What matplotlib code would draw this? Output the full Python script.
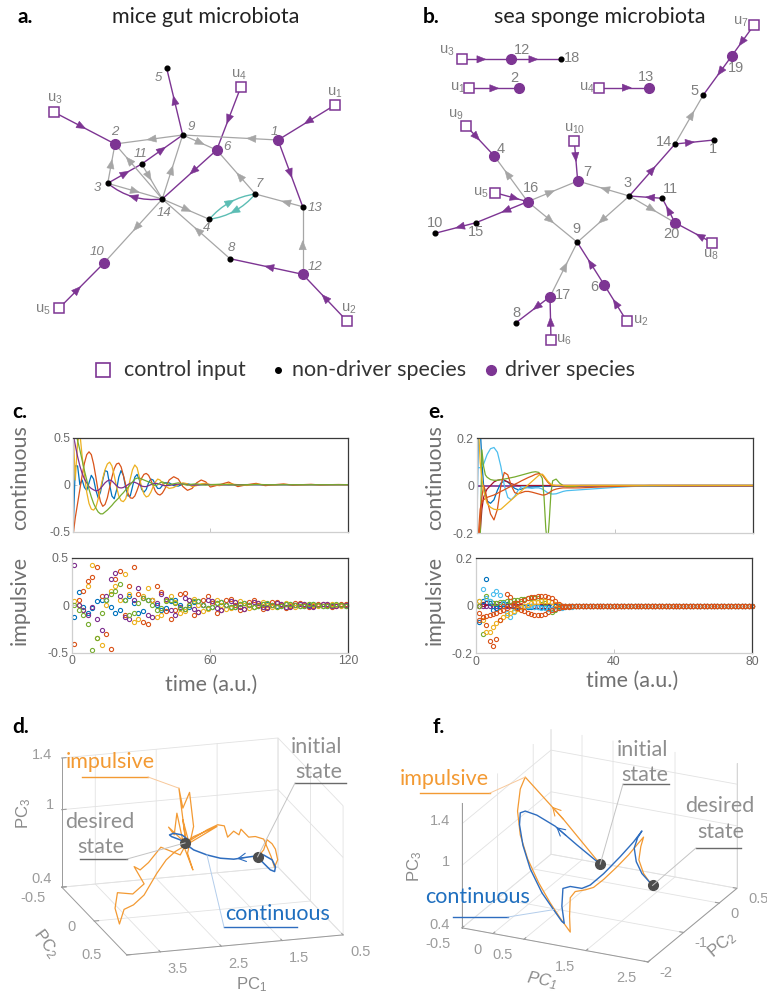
import numpy as np
import matplotlib
matplotlib.use("Agg")
import matplotlib.pyplot as plt
from matplotlib.patches import Polygon, PathPatch
from matplotlib.path import Path
from mpl_toolkits.mplot3d import proj3d

plt.rcParams["font.family"] = ["Lato", "DejaVu Sans"]
plt.rcParams["axes.unicode_minus"] = False
plt.rcParams["mathtext.default"] = "regular"

W, H = 767, 996

# ============================ DATA ============================
# ---- panel c : mice gut, continuous control (time, 5 species) ----
t_c = [0,1,2,3,4,5,6,7,8,9,10,11,12,13,14,15,16,17,18,19,20,21,22,23,24,25,26,27,28,29,30,
       31,32,33,34,35,36,37,38,39,40,42,44,46,48,50,52,54,56,58,60,
       64,68,72,76,80,84,88,92,96,100,104,108,112,116,120]
blue_c = [-0.55,0.2,0.2,0.0,0.05,-0.03,-0.06,0.02,0.1,0.06,-0.06,-0.14,-0.08,0.05,0.15,0.14,0.0,-0.12,-0.15,-0.06,
          0.08,0.15,0.1,-0.03,-0.12,-0.12,-0.02,0.08,0.11,0.05,-0.05,-0.08,-0.05,0.02,0.06,0.05,0.0,-0.04,-0.04,-0.01,0.02,
          0.02,-0.01,-0.015,0.005,0.01,0.0,-0.005,0.0,0.003,0.0,
          0,0,0,0,0,0,0,0,0,0,0,0,0,0,0]
red_c = [-0.55,-0.35,-0.2,-0.05,0.1,0.23,0.32,0.35,0.32,0.22,0.08,-0.07,-0.18,-0.23,-0.21,-0.14,-0.03,0.08,0.17,0.22,
         0.23,0.19,0.1,0.0,-0.09,-0.14,-0.145,-0.12,-0.06,0.01,0.07,0.11,0.12,0.1,0.05,-0.01,-0.07,-0.1,-0.11,-0.09,-0.05,
         0.05,0.085,0.06,-0.02,-0.06,-0.04,0.02,0.05,0.03,-0.025,
         0.0,0.028,-0.02,0.0,0.014,-0.01,0.0,0.008,-0.005,0.0,0.004,-0.003,0.0,0.002,0.0]
yellow_c = [0.6,0.05,0.45,0.55,0.3,0.1,-0.08,-0.2,-0.26,-0.27,-0.24,-0.15,-0.04,0.07,0.16,0.22,0.24,0.2,0.1,-0.02,
            -0.12,-0.17,-0.18,-0.15,-0.06,0.06,0.16,0.21,0.18,0.08,-0.03,-0.1,-0.13,-0.12,-0.08,-0.02,0.03,0.06,0.05,0.02,-0.01,
            -0.04,-0.03,0.0,0.02,0.01,-0.02,-0.01,0.01,0.015,0.0,
            -0.01,0.01,0.0,-0.008,0.005,0.0,-0.004,0.003,0.0,-0.002,0.0,0.0,0.0,0.0,0.0]
purple_c = [0.55,0.42,0.3,0.2,0.12,0.06,0.02,-0.02,-0.04,-0.055,-0.065,-0.06,-0.04,-0.01,0.02,0.04,0.05,0.04,0.015,-0.01,
            -0.03,-0.035,-0.03,-0.015,0.0,0.015,0.025,0.025,0.015,0.0,-0.015,-0.02,-0.02,-0.01,0.0,0.01,0.015,0.012,0.005,-0.005,-0.01,
            -0.008,0.0,0.006,0.006,0.0,-0.004,-0.003,0.0,0.003,0.002,
            0.0,-0.002,0.0,0.001,0.0,0,0,0,0,0,0,0,0,0,0]
green_c = [0.8,0.6,0.47,0.37,0.26,0.15,0.05,-0.05,-0.13,-0.2,-0.25,-0.29,-0.31,-0.31,-0.29,-0.27,-0.245,-0.22,-0.19,-0.165,
           -0.14,-0.11,-0.085,-0.055,-0.03,0.0,0.03,0.06,0.07,0.07,0.06,0.05,0.04,0.03,0.02,0.0,-0.01,0.0,0.02,0.03,0.02,
           0.0,0.01,0.02,0.005,-0.005,0.005,0.01,0.0,-0.005,0.0,
           0.005,0.0,-0.003,0.0,0.002,0,0,0,0,0,0,0,0,0,0]

# ---- panel c : impulsive control (impulse instants) ----
t_ic = list(range(1, 120, 2))
blue_ic = [-0.12,0.14,-0.02,-0.08,-0.03,0.04,0.06,0.05,-0.02,-0.08,
           -0.05,0.06,0.1,0.02,-0.08,-0.06,0.05,0.06,0.0,-0.05,
           -0.03,0.04,0.05,0.0,-0.04,-0.02,0.03,0.04,0.0,-0.03,
           -0.02,0.02,0.03,0.0,-0.02,-0.015,0.015,0.02,0.0,-0.015,
           -0.01,0.01,0.015,0.0,-0.01,-0.01,0.01,0.01,0.0,-0.01,
           -0.005,0.005,0.01,0.0,-0.005,-0.005,0.005,0.005,0.0,-0.005]
red_ic = [-0.41,0.05,0.15,0.25,0.3,0.40,0.1,-0.3,-0.46,0.28,
          0.36,-0.1,0.2,0.40,0.12,-0.18,-0.2,0.05,0.2,0.14,
          -0.06,-0.15,-0.05,0.12,0.13,0.0,-0.1,-0.07,0.06,0.1,
          0.02,-0.08,-0.05,0.05,0.07,0.0,-0.05,-0.04,0.03,0.05,
          0.0,-0.04,-0.02,0.03,0.03,0.0,-0.03,-0.01,0.02,0.02,
          0.0,-0.02,-0.01,0.015,0.015,0.0,-0.015,-0.005,0.01,0.01]
yellow_ic = [0.045,0.0,-0.05,0.2,0.42,-0.34,-0.42,0.0,0.15,0.2,
             0.05,0.33,0.12,-0.18,-0.15,0.1,0.18,0.05,-0.12,-0.1,
             0.06,0.1,0.03,-0.08,-0.06,0.05,0.07,0.0,-0.06,-0.04,
             0.04,0.05,0.0,-0.04,-0.03,0.03,0.04,0.0,-0.03,-0.02,
             0.02,0.03,0.0,-0.02,-0.015,0.015,0.02,0.0,-0.015,-0.01,
             0.01,0.015,0.0,-0.01,-0.01,0.01,0.01,0.0,-0.005,0.005]
purple_ic = [0.42,0.0,-0.05,-0.1,-0.02,-0.15,-0.26,0.1,0.28,0.34,
             0.1,-0.12,-0.15,0.05,0.18,0.08,-0.1,-0.12,0.02,0.12,
             0.07,-0.05,-0.1,-0.02,0.08,0.06,-0.04,-0.07,0.0,0.06,
             0.04,-0.03,-0.05,0.0,0.04,0.03,-0.02,-0.04,0.0,0.03,
             0.02,-0.02,-0.03,0.0,0.02,0.015,-0.015,-0.02,0.0,0.015,
             0.01,-0.01,-0.015,0.0,0.01,0.01,-0.01,-0.01,0.0,0.005]
green_ic = [0.0,-0.05,-0.1,-0.2,-0.47,-0.34,-0.08,0.05,0.12,0.15,
            0.22,0.05,-0.1,-0.08,0.02,0.08,0.06,0.0,-0.05,-0.03,
            0.04,0.06,0.02,-0.03,-0.04,0.0,0.04,0.04,0.0,-0.03,
            -0.02,0.02,0.03,0.0,-0.02,-0.02,0.01,0.025,0.0,-0.02,
            -0.01,0.01,0.02,0.0,-0.015,-0.01,0.01,0.015,0.0,-0.01,
            -0.005,0.01,0.01,0.0,-0.01,-0.005,0.005,0.01,0.0,-0.005]

# ---- panel e : sea sponge, continuous control ----
t_e = [0,0.5,1,1.5,2,2.5,3,4,5,6,7,8,9,10,11,12,13,14,15,16,17,18,19,19.5,20,20.5,21,21.5,22,
       23,24,25,26,28,30,33,36,40,45,50,60,70,80]
blue_e = [-0.3,0.3,0.25,0.1,0.0,-0.04,-0.065,-0.075,-0.06,-0.02,0.01,0.02,0.015,0.0,-0.012,-0.018,-0.015,-0.01,
          -0.008,-0.006,-0.005,-0.004,-0.003,-0.003,-0.003,-0.002,-0.002,-0.002,-0.002,-0.001,-0.001,
          0,0,0,0,0,0,0,0,0,0,0,0]
orange_e = [-0.3,-0.25,-0.15,-0.05,0.0,-0.02,-0.06,-0.12,-0.145,-0.1,0.0,0.055,0.045,0.0,-0.03,-0.035,-0.03,-0.025,
            -0.025,-0.028,-0.032,-0.036,-0.04,-0.04,-0.038,-0.035,-0.03,-0.025,-0.02,-0.015,-0.012,-0.01,-0.01,
            -0.01,-0.01,-0.008,-0.006,-0.004,-0.002,0,0,0,0]
orange2_e = [-0.3,-0.2,-0.1,-0.07,-0.06,-0.055,-0.05,-0.045,-0.04,-0.033,-0.025,-0.018,-0.01,-0.003,0.005,0.012,
             0.02,0.027,0.034,0.04,0.047,0.05,0.045,0.035,0.025,0.015,0.008,0.003,0.0,
             0,0,0,0,0,0,0,0,0,0,0,0,0,0]
yellow_e = [0.3,0.25,0.1,0.03,-0.02,-0.05,-0.075,-0.092,-0.1,-0.102,-0.1,-0.087,-0.074,-0.061,-0.048,-0.035,
            -0.022,-0.009,0.004,0.017,0.03,0.043,0.048,0.04,0.03,0.02,0.012,0.006,0.002,
            0,0,0,0,0,0,0,0,0,0,0,0,0,0]
green_e = [-0.3,-0.3,-0.25,0.15,0.08,0.045,0.035,0.025,0.022,0.022,0.025,0.027,0.03,0.033,0.036,0.04,0.044,
           0.048,0.052,0.056,0.058,0.055,0.03,-0.05,-0.18,-0.25,-0.15,-0.03,0.02,
           0.027,0.01,0.0,-0.005,-0.005,0.0,0,0,0,0,0,0,0,0]
cyan_e = [0.075,0.075,0.075,0.08,0.09,0.11,0.13,0.155,0.16,0.14,0.08,0.0,-0.05,-0.06,-0.045,-0.02,-0.005,
          -0.005,-0.01,-0.012,-0.01,-0.01,-0.015,-0.02,-0.025,-0.03,-0.033,-0.035,-0.036,
          -0.035,-0.03,-0.025,-0.022,-0.02,-0.018,-0.015,-0.012,-0.008,-0.004,-0.002,0,0,0]
darkred_e = [-0.3,-0.3,-0.2,-0.1,-0.05,-0.03,-0.015,0.0,0.015,0.022,0.025,0.022,0.015,0.008,0.003,
             0,0,0,0,0,0,0,0,0,0,0,0,0,0,0,0,0,0,0,0,0,0,0,0,0,0,0,0]
t_purple_e = [0, 80]
purple_e = [0.0, 0.0]

# ---- panel e : impulsive control (one impulse per time unit) ----
t_ie = list(range(1, 81))
blue_ie = [-0.07,0.02,0.11,0.01,-0.02,-0.01,0.0,0.005,0.005,0.0,
           -0.005,-0.005,-0.005,-0.005,-0.005,-0.005,-0.005,-0.005,-0.005,-0.005,
           -0.005,-0.004,-0.003,-0.002,-0.001,0,0,0,0,0,
           0,0,0,0,0,0,0,0,0,0, 0,0,0,0,0,0,0,0,0,0, 0,0,0,0,0,0,0,0,0,0,
           0,0,0,0,0,0,0,0,0,0, 0,0,0,0,0,0,0,0,0,0]
orange_ie = [-0.03,-0.05,-0.08,-0.15,-0.17,-0.142,-0.06,0.0,0.048,0.034,
             0.01,-0.01,-0.02,-0.025,-0.03,-0.035,-0.04,-0.042,-0.04,-0.035,
             -0.028,-0.02,-0.015,-0.01,-0.008,-0.006,-0.005,-0.004,-0.003,-0.003,
             -0.003,-0.003,-0.002,-0.002,-0.002,-0.002,-0.002,-0.001,-0.001,-0.001,
             -0.001,-0.001,0,0,0,0,0,0,0,0, 0,0,0,0,0,0,0,0,0,0,
             0,0,0,0,0,0,0,0,0,0, 0,0,0,0,0,0,0,0,0,0]
orange2_ie = [-0.06,-0.05,-0.045,-0.04,-0.035,-0.03,-0.025,-0.018,-0.01,-0.003,
              0.004,0.011,0.018,0.024,0.03,0.034,0.037,0.04,0.041,0.04,
              0.037,0.03,0.018,0.006,0,0,0,0,0,0,
              0,0,0,0,0,0,0,0,0,0, 0,0,0,0,0,0,0,0,0,0, 0,0,0,0,0,0,0,0,0,0,
              0,0,0,0,0,0,0,0,0,0, 0,0,0,0,0,0,0,0,0,0]
yellow_ie = [0.02,-0.06,-0.11,-0.11,-0.09,-0.072,-0.06,-0.05,-0.04,-0.03,
             -0.022,-0.015,-0.008,-0.002,0.004,0.009,0.013,0.016,0.018,0.019,
             0.018,0.014,0.008,0.003,0,0,0,0,0,0,
             0,0,0,0,0,0,0,0,0,0, 0,0,0,0,0,0,0,0,0,0, 0,0,0,0,0,0,0,0,0,0,
             0,0,0,0,0,0,0,0,0,0, 0,0,0,0,0,0,0,0,0,0]
green_ie = [0.0,-0.12,0.04,0.02,0.01,0.012,0.014,0.016,0.018,0.02,
            0.022,0.024,0.026,0.028,0.03,0.031,0.032,0.03,0.025,0.01,
            -0.015,-0.026,-0.02,-0.005,0,0,0,0,0,0,
            0,0,0,0,0,0,0,0,0,0, 0,0,0,0,0,0,0,0,0,0, 0,0,0,0,0,0,0,0,0,0,
            0,0,0,0,0,0,0,0,0,0, 0,0,0,0,0,0,0,0,0,0]
cyan_ie = [0.02,0.068,0.03,0.02,0.047,0.062,0.044,0.01,-0.03,-0.047,
           -0.026,-0.01,-0.005,0.0,0.0,-0.003,-0.005,-0.007,-0.009,-0.011,
           -0.013,-0.014,-0.013,-0.012,-0.01,-0.008,-0.006,-0.005,-0.004,-0.003,
           -0.003,-0.002,-0.002,-0.002,-0.001,-0.001,-0.001,0,0,0, 0,0,0,0,0,0,0,0,0,0,
           0,0,0,0,0,0,0,0,0,0, 0,0,0,0,0,0,0,0,0,0, 0,0,0,0,0,0,0,0,0,0]
darkred_ie = [0.0,0.005,0.01,0.012,0.012,0.01,0.008,0.006,0.004,0.002,
              0.001,0,0,0,0,0,0,0,0,0, 0,0,0,0,0,0,0,0,0,0,
              0,0,0,0,0,0,0,0,0,0, 0,0,0,0,0,0,0,0,0,0, 0,0,0,0,0,0,0,0,0,0,
              0,0,0,0,0,0,0,0,0,0, 0,0,0,0,0,0,0,0,0,0]
purple_ie = [0,0,0,0,0,0,0,0,0,0, 0,0,0,0,0,0,0,0,0,0, 0,0,0,0,0,0,0,0,0,0,
             0,0,0,0,0,0,0,0,0,0, 0,0,0,0,0,0,0,0,0,0, 0,0,0,0,0,0,0,0,0,0,
             0,0,0,0,0,0,0,0,0,0, 0,0,0,0,0,0,0,0,0,0]

# ---- panel d : PCA trajectories, mice gut (PC1, PC2, PC3) ----
d_cont_pc1 = [1.37,1.27,1.16,1.09,1.076,1.13,1.27,1.54,1.76,1.98,2.2,2.42,2.53,2.64,2.78,2.815,2.749,2.611,2.502,2.56]
d_cont_pc2 = [0,0,0,0,0,0,0,0,0,0,0,0,0,0,0,0,0,0,0,0]
d_cont_pc3 = [0.78,0.726,0.67,0.654,0.69,0.746,0.79,0.785,0.779,0.796,0.831,0.88,0.923,0.967,0.998,1.013,1.023,1.004,0.96,0.94]
d_imp_pc1 = [1.368,1.269,1.214,1.132,1.077,1.039,1.093,1.148,1.214,1.269,1.406,1.516,1.642,1.675,1.762,1.861,1.916,2.025,
             2.201,2.354,2.502,2.596,2.552,2.661,2.596,2.486,2.42,2.519,2.431,2.574,2.694,2.738,2.831,2.541,2.639,2.957,
             3.16,3.297,3.396,3.232,3.418,3.67,3.709,3.637,3.561,3.407,3.232,3.023,2.87,2.722,2.036,2.42,2.552]
d_imp_pc2 = [0,0,0,0,0,0,0,0,0,0,0,0,0,0,0,0,0,0,0,0,0,0,0,0,0,0,0,0,0,0,0,0,0,0,0,0,0,0,0,0,0,0,0,0,0,0,0,0,0,0,0,0,0]
d_imp_pc3 = [0.777,0.83,0.906,0.871,0.827,0.743,0.688,0.773,0.849,0.913,0.939,0.939,1.006,0.964,0.996,0.954,1.044,1.057,
             1.025,0.986,0.949,1.121,0.964,1.368,1.211,1.328,1.061,0.858,0.725,0.908,1.176,1.01,1.074,0.932,0.85,0.924,
             0.814,0.763,0.793,0.652,0.582,0.603,0.484,0.359,0.469,0.497,0.566,0.725,0.822,0.88,1.044,0.983,0.943]
d_initial = (1.37, 0.0, 0.78)
d_desired = (2.56, 0.0, 0.94)

# ---- panel f : PCA trajectories, sea sponge ----
f_cont_pc1 = [1.212,0.836,0.487,0.191,0.003,-0.077,-0.089,-0.035,0.084,0.272,0.46,0.594,0.632,0.594,0.611,0.729,
              0.917,1.052,1.267,1.535,1.75,1.885,1.815,1.761,1.794,1.885,2.057]
f_cont_pc3 = [0.944,1.088,1.229,1.303,1.322,1.296,1.181,0.991,0.775,0.567,0.425,0.326,0.313,0.473,0.645,0.677,
              0.679,0.726,0.858,1.051,1.216,1.336,1.262,1.158,1.031,0.927,0.832]
f_cont_pc2 = [-1.1,-1.1,-1.1,-1.1,-1.1,-1.1,-1.1,-1.1,-1.1,-1.1,-1.1,-1.1,-1.1,-1.1,-1.1,-1.1,-1.1,-1.1,-1.1,-1.1,
              -1.1,-1.1,-1.1,-1.1,-1.1,-1.1,-1.1]
f_imp_pc1 = [1.212,0.621,0.003,-0.077,-0.121,-0.077,0.041,0.218,0.406,0.567,0.729,0.718,0.729,0.809,0.971,1.105,
             1.267,1.482,1.67,1.831,1.912,1.868,1.836,1.912,2.046]
f_imp_pc3 = [0.944,1.309,1.648,1.525,1.308,1.084,0.868,0.659,0.484,0.355,0.239,0.389,0.569,0.637,0.671,0.709,
             0.803,0.947,1.083,1.215,1.28,1.187,1.053,0.93,0.831]
f_imp_pc2 = [-1.1,-1.1,-1.1,-1.1,-1.1,-1.1,-1.1,-1.1,-1.1,-1.1,-1.1,-1.1,-1.1,-1.1,-1.1,-1.1,-1.1,-1.1,-1.1,-1.1,
             -1.1,-1.1,-1.1,-1.1,-1.1]
f_initial = (1.212, -1.1, 0.944)
f_desired = (2.057, -1.1, 0.832)

d_xticks, d_xticklabels = [0.5, 1.5, 2.5, 3.5], ["0.5", "1.5", "2.5", "3.5"]
d_yticks, d_yticklabels = [-0.5, 0, 0.5], ["-0.5", "0", "0.5"]
d_zticks, d_zticklabels = [0.4, 1, 1.4], ["0.4", "1", "1.4"]
f_xticks, f_xticklabels = [-0.5, 0, 0.5, 1.5, 2.5], ["-0.5", "0", "0.5", "1.5", "2.5"]
f_yticks, f_yticklabels = [-2, -1, 0, 0.5], ["-2", "-1", "0", "0.5"]
f_zticks, f_zticklabels = [0.4, 1, 1.4], ["0.4", "1", "1.4"]

# ---- networks (node layout in pixels) ----
A_POS = {'1': (278, 140), '2': (115, 144), '3': (107.7, 183.3), '4': (209.3, 219.3), '5': (166.7, 68.3),
         '6': (216.7, 150), '7': (255.3, 194), '8': (230, 258.7), '9': (182.7, 135), '10': (103.7, 263.3),
         '11': (141.7, 164), '12': (302.7, 274.3), '13': (302.7, 206.7), '14': (162.3, 199),
         'u1': (335, 105), 'u2': (346.7, 320.7), 'u3': (54.3, 112.3), 'u4': (240.7, 87.3), 'u5': (59, 308.3)}
A_LBL = {'5': (158, 78), '2': (115, 132), '1': (274, 132), '9': (191.7, 127), '6': (226.7, 146.7), '11': (140.7, 154),
         '3': (97.7, 187.7), '14': (164, 213), '7': (259.3, 184.3), '13': (315, 207.7), '4': (206.7, 228.3),
         '8': (231.7, 248.3), '10': (96.7, 252.3), '12': (315, 267.3),
         'u1': (335, 93), 'u2': (348.3, 308.3), 'u3': (55, 99), 'u4': (239, 75), 'u5': (42.7, 310)}
A_DRIVER = ['1', '2', '6', '10', '12']
A_NONDRIVER = ['3', '4', '5', '7', '8', '9', '11', '13', '14']
A_INPUT = ['u1', 'u2', 'u3', 'u4', 'u5']
A_EDGES = [("u3", "2", "p", 0.45, 0), ("9", "5", "p", 0.52, 0), ("u4", "6", "p", 0.51, 0), ("u1", "1", "p", 0.47, 0),
           ("1", "13", "p", 0.5, 0), ("9", "2", "g", 0.46, 0), ("1", "9", "g", 0.28, 0), ("9", "6", "g", 0.51, 0),
           ("6", "14", "p", 0.43, 0), ("3", "11", "p", 0.51, 0), ("11", "9", "p", 0.49, 0), ("3", "2", "g", 0.49, 0),
           ("14", "2", "g", 0.7, 0), ("11", "14", "g", 0.35, 0), ("14", "9", "g", 0.45, 0), ("3", "14", "g", 0.5, 0),
           ("14", "3", "p", 0.5, -6), ("14", "4", "g", 0.52, 0), ("7", "6", "g", 0.4, 0), ("13", "7", "g", 0.35, 0),
           ("4", "7", "t", 0.5, -5), ("7", "4", "t", 0.5, -5), ("12", "13", "g", 0.43, 0), ("12", "8", "p", 0.46, 0),
           ("8", "14", "g", 0.47, 0), ("14", "10", "g", 0.44, 0), ("u5", "10", "p", 0.41, 0), ("u2", "12", "p", 0.49, 0)]

B_POS = {'u3': (461.7, 59.3), '12': (511, 59.3), '18': (560.7, 59.3), 'u1': (469.3, 88.3), '2': (519.3, 88.3),
         'u4': (599.3, 87.7), '13': (649.3, 87.7), 'u7': (754, 25), '19': (731.7, 56), '5': (703.3, 95),
         '14': (675, 144), '1': (714, 140), 'u9': (466, 125.7), '4': (494.3, 156), 'u10': (574.3, 141),
         '7': (577.7, 181), '3': (629.3, 196), '11': (662.3, 198.3), 'u5': (495, 192.7), '16': (527.7, 201.7),
         '15': (476, 222.7), '10': (435, 233.3), '20': (675, 222.7), 'u8': (712.3, 242.7), '9': (577.3, 242.3),
         '6': (604.3, 285), 'u2': (626.7, 321), '17': (550, 296.7), '8': (516, 322.7), 'u6': (551, 340)}
B_LBL = {'12': (522.3, 50), '18': (571.7, 58.3), '2': (514.3, 78.3), '13': (645.7, 76.7), '19': (736, 67.7),
         '5': (694.3, 90.7), '14': (664, 142.3), '1': (712.7, 149), '4': (500.7, 149.3), '7': (587.7, 171.7),
         '3': (627.7, 183.3), '11': (670, 189), '16': (531, 187.7), '15': (476, 231.7), '10': (435, 222.7),
         '20': (671, 234), '9': (576.7, 229.3), '6': (594.3, 287.3), '17': (562.7, 295), '8': (516, 313.3),
         'u3': (446.7, 50.7), 'u1': (457.3, 87.3), 'u4': (586.7, 87.3), 'u7': (741, 22), 'u9': (456, 115),
         'u10': (575, 129), 'u5': (481, 192.7), 'u8': (711, 255), 'u2': (641, 321), 'u6': (563.3, 340)}
B_DRIVER = ['2', '4', '6', '7', '12', '13', '16', '17', '19', '20']
B_NONDRIVER = ['1', '3', '5', '8', '9', '10', '11', '14', '15', '18']
B_INPUT = ['u1', 'u2', 'u3', 'u4', 'u5', 'u6', 'u7', 'u8', 'u9', 'u10']
B_EDGES = [("u3", "12", "p", 0.4, 0), ("12", "18", "p", 0.45, 0), ("u1", "2", "p", 0.5, 0), ("u4", "13", "p", 0.55, 0),
           ("u7", "19", "p", 0.55, 0), ("19", "5", "p", 0.4, 0), ("14", "5", "g", 0.59, 0), ("14", "1", "p", 0.38, 0),
           ("3", "14", "p", 0.5, 0), ("u9", "4", "p", 0.37, 0), ("16", "4", "g", 0.6, 0), ("u10", "7", "p", 0.4, 0),
           ("16", "7", "g", 0.45, 0), ("3", "7", "g", 0.47, 0), ("11", "3", "p", 0.37, 0), ("3", "20", "g", 0.49, 0),
           ("20", "11", "p", 0.5, 0), ("u8", "20", "p", 0.33, 0), ("u5", "16", "p", 0.6, 0), ("16", "15", "p", 0.42, 0),
           ("15", "10", "p", 0.39, 0), ("16", "9", "g", 0.45, 0), ("3", "9", "g", 0.52, 0), ("17", "9", "g", 0.55, 0),
           ("6", "9", "p", 0.5, 0), ("u2", "6", "p", 0.49, 0), ("17", "8", "p", 0.39, 0), ("u6", "17", "p", 0.42, 0)]

# ============================ STYLE ============================
PURPLE = "#7D3593"
GRAYE = "#A6A6A6"
TEAL = "#5CBDB4"
LBLC = "#808080"
MB, MO, MY, MP, MG, MC, MR = "#0072BD", "#D95319", "#EDB120", "#7E2F8E", "#77AC30", "#4DBEEE", "#A2142F"
TRAJ_BLUE, TRAJ_ORANGE = "#2E6DBF", "#F39A33"
EDGE_COL = {"p": PURPLE, "g": GRAYE, "t": TEAL}
TICKC = "#9c9c9c"

fig = plt.figure(figsize=(W / 100, H / 100), dpi=100)
fig.patch.set_facecolor("white")

ov = fig.add_axes([0, 0, 1, 1])
ov.set_xlim(0, W); ov.set_ylim(H, 0); ov.axis("off"); ov.patch.set_visible(False)
ov.set_zorder(0)


def draw_edge(ax, p0, p1, color, t=0.5, bulge=0.0, lw=1.0, hl=9.0, hw=3.6):
    p0 = np.asarray(p0, float); p1 = np.asarray(p1, float)
    d = p1 - p0; L = np.hypot(*d); u = d / L; n = np.array([-u[1], u[0]])
    if bulge:
        c = (p0 + p1) / 2 + 2 * bulge * n
        path = Path([p0, c, p1], [Path.MOVETO, Path.CURVE3, Path.CURVE3])
        ax.add_patch(PathPatch(path, fc="none", ec=color, lw=lw, zorder=1))
        pt_ = (1 - t) ** 2 * p0 + 2 * (1 - t) * t * c + t ** 2 * p1
        tan = 2 * (1 - t) * (c - p0) + 2 * t * (p1 - c)
        tu = tan / np.hypot(*tan)
    else:
        ax.plot([p0[0], p1[0]], [p0[1], p1[1]], color=color, lw=lw, zorder=1, solid_capstyle="butt")
        pt_ = p0 + t * d; tu = u
    tn = np.array([-tu[1], tu[0]])
    tip = pt_ + tu * hl / 2; base = pt_ - tu * hl / 2
    ax.add_patch(Polygon([tip, base + tn * hw, base - tn * hw], closed=True, fc=color, ec=color, lw=0.4, zorder=2))


def draw_network(ax, pos, lbl, driver, nondriver, inputs, edges, italic, lblsize):
    for s, dd, k, t, b in edges:
        draw_edge(ax, pos[s], pos[dd], EDGE_COL[k], t=t, bulge=b, lw=1.0 if k != "g" else 0.9)
    for n in inputs:
        ax.plot(*pos[n], "s", ms=7.5, mfc="white", mec=PURPLE, mew=1.1, zorder=4)
    for n in driver:
        ax.plot(*pos[n], "o", ms=7.0, color=PURPLE, mec=PURPLE, zorder=4)
    for n in nondriver:
        ax.plot(*pos[n], "o", ms=3.4, color="black", zorder=4)
    for n, (x, y) in lbl.items():
        if n.startswith("u"):
            s = r"$\mathregular{u_{%s}}$" % n[1:]
            ax.text(x, y, s, ha="center", va="center", fontsize=10.5, color=LBLC, family="Liberation Sans", zorder=5)
        else:
            ax.text(x, y, n, ha="center", va="center", fontsize=lblsize, color=LBLC, family="Liberation Sans",
                    style="italic" if italic else "normal", zorder=5)


draw_network(ov, A_POS, A_LBL, A_DRIVER, A_NONDRIVER, A_INPUT, A_EDGES, True, 9.5)
draw_network(ov, B_POS, B_LBL, B_DRIVER, B_NONDRIVER, B_INPUT, B_EDGES, False, 10.5)

# titles and panel letters
for x, y, s in [(18, 17, "a."), (423, 17, "b."), (12, 412, "c."), (428, 412, "e."), (12, 727, "d."), (433, 727, "f.")]:
    ov.text(x, y, s, ha="left", va="center", fontsize=15, fontweight="bold", color="black")
ov.text(206, 17, "mice gut microbiota", ha="center", va="center", fontsize=15.5, color="#222222")
ov.text(600, 17, "sea sponge microbiota", ha="center", va="center", fontsize=15.5, color="#222222")

# legend row
LEG_Y = 370
ov.plot(103, LEG_Y, "s", ms=10, mfc="white", mec=PURPLE, mew=1.2)
ov.text(124, LEG_Y, "control input", ha="left", va="center", fontsize=15.5, color="#333333")
ov.plot(278, LEG_Y, "o", ms=4, color="black")
ov.text(292, LEG_Y, "non-driver species", ha="left", va="center", fontsize=15.5, color="#333333")
ov.plot(491, LEG_Y, "o", ms=7, color=PURPLE)
ov.text(505, LEG_Y, "driver species", ha="left", va="center", fontsize=15.5, color="#333333")


# ============================ TIME SERIES ============================
def ts_axes(box, xlim, ylim, yt, ytl, xt, xtl):
    l, t, r, b = box
    ax = fig.add_axes([l / W, 1 - b / H, (r - l) / W, (b - t) / H])
    ax.set_xlim(*xlim); ax.set_ylim(*ylim)
    ax.set_yticks(yt); ax.set_yticklabels(ytl)
    ax.set_xticks(xt); ax.set_xticklabels(xtl)
    for s in ("top", "right"):
        ax.spines[s].set_color("#3a3a3a"); ax.spines[s].set_linewidth(0.9)
    for s in ("left", "bottom"):
        ax.spines[s].set_color("#cfcfcf"); ax.spines[s].set_linewidth(0.9)
    ax.tick_params(direction="in", length=3, width=0.6, color="#bdbdbd", labelsize=8.8,
                   labelcolor="#6a6a6a", pad=2)
    for lab in ax.get_xticklabels() + ax.get_yticklabels():
        lab.set_family("Liberation Sans")
    return ax


ax_cc = ts_axes((73, 437.7, 347.7, 531.7), (0, 120), (-0.5, 0.5), [-0.5, 0, 0.5], ["-0.5", "0", "0.5"],
                [0, 60, 120], ["", "", ""])
for y, c in [(blue_c, MB), (red_c, MO), (yellow_c, MY), (purple_c, MP), (green_c, MG)]:
    ax_cc.plot(t_c, y, color=c, lw=0.9)
ax_ci = ts_axes((71.7, 557.7, 348, 652.7), (0, 120), (-0.5, 0.5), [-0.5, 0, 0.5], ["-0.5", "0", "0.5"],
                [0, 60, 120], ["0", "60", "120"])
for y, c in [(blue_ic, MB), (red_ic, MO), (yellow_ic, MY), (purple_ic, MP), (green_ic, MG)]:
    ax_ci.plot(t_ic, y, "o", ms=3.0, mfc="none", mec=c, mew=0.8, clip_on=False)

ax_ec = ts_axes((476.7, 438, 753, 533), (0, 80), (-0.2, 0.2), [-0.2, 0, 0.2], ["-0.2", "0", "0.2"],
                [0, 40, 80], ["", "", ""])
ax_ec.plot(t_purple_e, purple_e, color=MP, lw=1.2)
for y, c in [(blue_e, MB), (darkred_e, MR), (cyan_e, MC), (green_e, MG), (orange_e, MO), (orange2_e, MO),
             (yellow_e, MY)]:
    ax_ec.plot(t_e, y, color=c, lw=0.9)
ax_ei = ts_axes((475.7, 558, 752, 653), (0, 80), (-0.2, 0.2), [-0.2, 0, 0.2], ["-0.2", "0", "0.2"],
                [0, 40, 80], ["0", "40", "80"])
for y, c in [(purple_ie, MP), (darkred_ie, MR), (blue_ie, MB), (green_ie, MG), (cyan_ie, MC), (yellow_ie, MY),
             (orange2_ie, MO), (orange_ie, MO)]:
    ax_ei.plot(t_ie, y, "o", ms=3.0, mfc="none", mec=c, mew=0.8, clip_on=False)

for x in (20, 435):
    ov.text(x, 478, "continuous", rotation=90, ha="center", va="center", fontsize=15.5, color="#707070")
    ov.text(x, 600, "impulsive", rotation=90, ha="center", va="center", fontsize=15.5, color="#707070")
ov.text(211, 685, "time (a.u.)", ha="center", va="center", fontsize=15.5, color="#707070")
ov.text(632, 681, "time (a.u.)", ha="center", va="center", fontsize=15.5, color="#707070")


# ============================ 3D PANELS ============================
def proj_img(ax, xs, ys, zs):
    M = ax.get_proj()
    a, b, _ = proj3d.proj_transform(np.asarray(xs, float), np.asarray(ys, float), np.asarray(zs, float), M)
    dsp = ax.transData.transform(np.column_stack([a, b]))
    return dsp[:, 0], H - dsp[:, 1]


def setlim(fn, lo, hi):
    try:
        fn(lo, hi, view_margin=0)
    except TypeError:
        fn(lo, hi)


def setup3d(cx, cy, size, xl, yl, zl, ticks, elev, azim, aspect):
    rect = [(cx - size / 2) / W, 1 - (cy + size / 2) / H, size / W, size / H]
    ax = fig.add_axes(rect, projection="3d")
    ax.set_proj_type("ortho")
    ax.set_facecolor((1, 1, 1, 0))
    ax.computed_zorder = False
    setlim(ax.set_xlim, *xl); setlim(ax.set_ylim, *yl); setlim(ax.set_zlim, *zl)
    xt, yt, zt = ticks
    ax.set_xticks(xt); ax.set_xticklabels([""] * len(xt))
    ax.set_yticks(yt); ax.set_yticklabels([""] * len(yt))
    ax.set_zticks(zt); ax.set_zticklabels([""] * len(zt))
    ax.view_init(elev=elev, azim=azim)
    ax.set_box_aspect(aspect)
    for axis in (ax.xaxis, ax.yaxis, ax.zaxis):
        axis.set_pane_color((1, 1, 1, 0))
        axis.pane.set_edgecolor("#d6d6d6")
        axis.line.set_color("#9a9a9a"); axis.line.set_linewidth(0.7)
        try:
            axis._axinfo["grid"].update(color="#e2e2e2", linewidth=0.6)
            axis._axinfo["tick"].update(inward_factor=0.0, outward_factor=0.25)
        except Exception:
            pass
        axis.set_tick_params(colors=TICKC)
    return ax


def calibrate(ax, corners, targets):
    fig.canvas.draw()
    c = np.array(corners, float)
    px, py = proj_img(ax, c[:, 0], c[:, 1], c[:, 2])
    P = np.column_stack([px, py]); T = np.array(targets, float)
    Pm, Tm = P.mean(0), T.mean(0)
    k = np.sum((P - Pm) * (T - Tm)) / np.sum((P - Pm) ** 2)
    pos = ax.get_position()
    C = np.array([(pos.x0 + pos.width / 2) * W, (1 - (pos.y0 + pos.height / 2)) * H])
    Cn = Tm + k * (C - Pm)
    wn, hn = pos.width * k, pos.height * k
    ax.set_position([Cn[0] / W - wn / 2, 1 - Cn[1] / H - hn / 2, wn, hn])


# panel d
ax_d = setup3d(200, 860, 340, (0.5, 4.05), (-0.5, 0.5), (0.4, 1.4), (d_xticks, d_yticks, d_zticks),
               18.1, 73.4, (1, 1.009, 0.602))
ax_d.plot(d_imp_pc1, d_imp_pc2, d_imp_pc3, color=TRAJ_ORANGE, lw=0.9)
ax_d.plot(d_cont_pc1, d_cont_pc2, d_cont_pc3, color=TRAJ_BLUE, lw=1.1)
ax_d.plot(*[[v] for v in d_initial], "o", ms=7, color="#4d4d4d")
ax_d.plot(*[[v] for v in d_desired], "o", ms=7, color="#4d4d4d")
calibrate(ax_d, [(4.05, -0.5, 0.4), (0.5, 0.5, 0.4), (4.05, 0.5, 0.4), (4.05, -0.5, 1.4)],
          [(61.7, 887), (343, 935), (127, 955), (61.7, 758)])

# panel f
ax_f = setup3d(600, 860, 340, (-0.5, 2.5), (-2, 0.5), (0.4, 1.6), (f_xticks, f_yticks, f_zticks),
               22.9, -64.8, (1, 1.017, 0.66))
try:
    ax_f.zaxis._axinfo["tick"].update(inward_factor=0.0, outward_factor=0.0)
except Exception:
    pass
ax_f.zaxis.line.set_color("#d6d6d6")
ax_f.plot([-0.5, -0.5], [-2, -2], [0.4, 1.6], color="#9a9a9a", lw=0.7)
ax_f.plot(f_imp_pc1, f_imp_pc2, f_imp_pc3, color=TRAJ_ORANGE, lw=0.9)
ax_f.plot(f_cont_pc1, f_cont_pc2, f_cont_pc3, color=TRAJ_BLUE, lw=1.0)
ax_f.plot(*[[v] for v in f_initial], "o", ms=7, color="#4d4d4d")
ax_f.plot(*[[v] for v in f_desired], "o", ms=7, color="#4d4d4d")
calibrate(ax_f, [(-0.5, -2, 0.4), (2.5, -2, 0.4), (2.5, 0.5, 0.4), (-0.5, -2, 1.6)],
          [(462, 928), (648, 962), (737, 888), (462, 803)])

fig.canvas.draw()

# annotation overlay
ov2 = fig.add_axes([0, 0, 1, 1])
ov2.set_xlim(0, W); ov2.set_ylim(H, 0); ov2.axis("off"); ov2.patch.set_visible(False)
ov2.set_zorder(20)


def pt(ax, p):
    x, y = proj_img(ax, [p[0]], [p[1]], [p[2]])
    return x[0], y[0]


def tick_labels(ax, pts, labels, offsets, ha):
    p = np.array(pts, float)
    xs, ys = proj_img(ax, p[:, 0], p[:, 1], p[:, 2])
    for x, y, s, (dx, dy) in zip(xs, ys, labels, offsets):
        ov2.text(x + dx, y + dy, s, ha=ha, va="center", fontsize=10.5, color=TICKC, family="Liberation Sans")


def path_arrow(ax, xs, ys, zs, i, f0, f1, color):
    px, py = proj_img(ax, xs[i:i + 2], ys[i:i + 2], zs[i:i + 2])
    a = (px[0] + f0 * (px[1] - px[0]), py[0] + f0 * (py[1] - py[0]))
    b = (px[0] + f1 * (px[1] - px[0]), py[0] + f1 * (py[1] - py[0]))
    ov2.annotate("", xy=b, xytext=a,
                 arrowprops=dict(arrowstyle="->,head_length=0.55,head_width=0.3", color=color, lw=0.8,
                                 shrinkA=0, shrinkB=0, mutation_scale=10))


# 3D tick labels (MATLAB-like placement)
tick_labels(ax_d, [(v, 0.5, 0.4) for v in d_xticks], d_xticklabels, [(17, 17.5)] * 4, "center")
tick_labels(ax_d, [(4.05, v, 0.4) for v in d_yticks], d_yticklabels, [(-16, 11), (-18.5, 6), (-25, 0)], "right")
tick_labels(ax_d, [(4.05, -0.5, v) for v in d_zticks], d_zticklabels, [(-10, -8), (-8, -4.5), (-10, -3)], "right")
tick_labels(ax_f, [(v, -2, 0.4) for v in f_xticks], f_xticklabels, [(-11, 16)] * 5, "right")
tick_labels(ax_f, [(2.5, v, 0.4) for v in f_yticks], f_yticklabels, [(11, 11)] * 4, "left")
tick_labels(ax_f, [(-0.5, -2, v) for v in f_zticks], f_zticklabels, [(-12, -3)] * 3, "right")

# direction marks on trajectories
path_arrow(ax_d, d_cont_pc1, d_cont_pc2, d_cont_pc3, 7, 0.2, 0.75, TRAJ_BLUE)
path_arrow(ax_f, f_cont_pc1, f_cont_pc2, f_cont_pc3, 1, 0.5, 0.95, TRAJ_BLUE)
path_arrow(ax_f, f_imp_pc1, f_imp_pc2, f_imp_pc3, 1, 0.0, 0.3, TRAJ_ORANGE)

GR_T, GR_U, GR_L = "#8f8f8f", "#6a6a6a", "#c4c4c4"
# d annotations
ov2.text(110.5, 762, "impulsive", ha="center", va="center", fontsize=15.5, color=TRAJ_ORANGE)
ov2.plot([82, 148], [777, 777], color=TRAJ_ORANGE, lw=1.0)
ex, ey = pt(ax_d, (d_imp_pc1[23], d_imp_pc2[23], d_imp_pc3[23]))
ov2.plot([148, ex], [777, ey], color="#F8C89A", lw=0.7)
ov2.text(342, 747, "initial", ha="right", va="center", fontsize=15.5, color=GR_T)
ov2.text(342, 772, "state", ha="right", va="center", fontsize=15.5, color=GR_T)
ov2.plot([295, 346], [783, 783], color=GR_U, lw=1.0)
ex, ey = pt(ax_d, d_initial)
ov2.plot([295, ex], [783, ey], color=GR_L, lw=0.7)
ov2.text(100, 822, "desired", ha="center", va="center", fontsize=15.5, color=GR_T)
ov2.text(101, 847, "state", ha="center", va="center", fontsize=15.5, color=GR_T)
ov2.plot([80, 127], [859, 859], color=GR_U, lw=1.0)
ex, ey = pt(ax_d, d_desired)
ov2.plot([127, ex], [859, ey], color=GR_L, lw=0.7)
ov2.text(277.5, 914, "continuous", ha="center", va="center", fontsize=15.5, color="#1F6FBF")
ov2.plot([224, 297], [927, 927], color=TRAJ_BLUE, lw=1.0)
ex, ey = pt(ax_d, (d_cont_pc1[10], d_cont_pc2[10], d_cont_pc3[10]))
ov2.plot([224, ex], [927, ey], color="#B3CDEB", lw=0.7)
ov2.text(252, 985, r"$PC_1$", ha="center", va="center", fontsize=12, color="#8a8a8a", family="Liberation Sans")
ov2.text(24, 813, r"$PC_3$", rotation=90, ha="center", va="center", fontsize=12, color="#8a8a8a",
         family="Liberation Sans")
ov2.text(46, 943, r"$PC_2$", rotation=-55, ha="center", va="center", fontsize=12, color="#8a8a8a",
         family="Liberation Sans")

# f annotations
ov2.text(668, 750, "initial", ha="right", va="center", fontsize=15.5, color=GR_T)
ov2.text(668, 775, "state", ha="right", va="center", fontsize=15.5, color=GR_T)
ov2.plot([623, 669], [784, 784], color=GR_U, lw=1.0)
ex, ey = pt(ax_f, f_initial)
ov2.plot([623, ex], [784, ey], color=GR_L, lw=0.7)
ov2.text(720, 806, "desired", ha="center", va="center", fontsize=15.5, color=GR_T)
ov2.text(721, 832, "state", ha="center", va="center", fontsize=15.5, color=GR_T)
ov2.plot([696, 741], [848, 848], color=GR_U, lw=1.0)
ex, ey = pt(ax_f, f_desired)
ov2.plot([696, ex], [848, ey], color=GR_L, lw=0.7)
ov2.text(444.5, 779, "impulsive", ha="center", va="center", fontsize=15.5, color=TRAJ_ORANGE)
ov2.plot([420, 490], [793, 793], color=TRAJ_ORANGE, lw=1.0)
ex, ey = pt(ax_f, (f_imp_pc1[2], f_imp_pc2[2], f_imp_pc3[2]))
ov2.plot([490, ex], [793, ey], color="#F8C89A", lw=0.7)
ov2.text(477.5, 897, "continuous", ha="center", va="center", fontsize=15.5, color="#1F6FBF")
ov2.plot([453, 508], [917, 917], color=TRAJ_BLUE, lw=1.0)
ex, ey = pt(ax_f, (f_cont_pc1[10], f_cont_pc2[10], f_cont_pc3[10]))
ov2.plot([508, ex], [917, ey], color="#B3CDEB", lw=0.7)
ov2.text(542, 980, r"$PC_1$", rotation=-10, ha="center", va="center", fontsize=12, color="#8a8a8a",
         family="Liberation Sans", style="italic")
ov2.text(415, 866, r"$PC_3$", rotation=90, ha="center", va="center", fontsize=12, color="#8a8a8a",
         family="Liberation Sans")
ov2.text(722, 945, r"$PC_2$", rotation=40, ha="center", va="center", fontsize=12, color="#8a8a8a",
         family="Liberation Sans")

fig.savefig("out.png", dpi=100, facecolor="white")
